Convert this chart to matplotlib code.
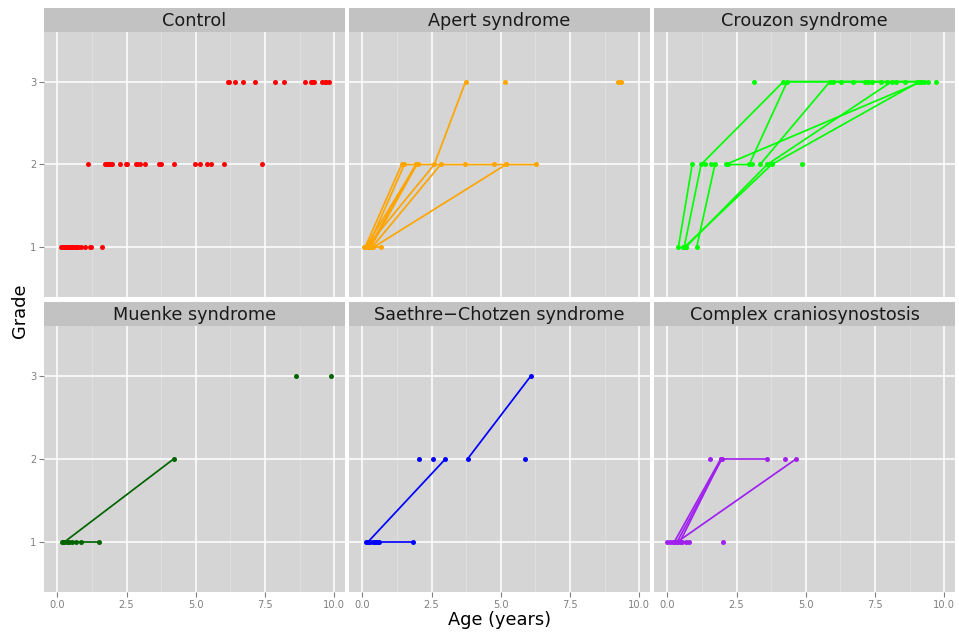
import matplotlib
matplotlib.use("Agg")
import matplotlib.pyplot as plt

# one list per column: patient id, age at exam (years), grade
control_id = list(range(55))
control_age = [0.13, 0.17, 0.22, 0.27, 0.31, 0.36, 0.41, 0.47, 0.52, 0.58, 0.64,
               0.70, 0.76, 0.84, 1.01, 1.18, 1.22, 1.62,
               1.12, 1.72, 1.78, 1.84, 1.90, 1.96, 2.26, 2.47, 2.53, 2.84, 2.89,
               2.98, 3.17, 3.68, 3.74, 4.22, 4.97, 5.14, 5.40, 5.56, 6.03, 7.41,
               6.15, 6.21, 6.42, 6.69, 7.15, 7.86, 8.17, 8.93, 9.15, 9.21, 9.27,
               9.56, 9.66, 9.72, 9.80]
control_grade = [1] * 18 + [2] * 22 + [3] * 15

apert_id = [1, 1, 1, 2, 2, 3, 3, 4, 4, 4, 4, 4, 5, 5, 5, 6, 6, 7, 7, 7,
            8, 8, 9, 10, 10, 11, 11]
apert_age = [0.10, 1.42, 2.00, 0.20, 1.52, 0.25, 1.93, 0.30, 1.97, 3.71, 4.75, 5.19,
             0.15, 2.60, 3.73, 0.35, 2.83, 0.40, 5.19, 6.27,
             0.05, 0.66, 5.15, 9.24, 9.36, 0.12, 1.95]
apert_grade = [1, 2, 2, 1, 2, 1, 2, 1, 2, 2, 2, 2, 1, 2, 3, 1, 2, 1, 2, 2,
               1, 1, 3, 3, 3, 1, 2]

crouzon_id = [1, 1, 1, 1, 1, 2, 2, 3, 3, 4, 4, 4, 4, 5, 5, 5, 5, 6, 6,
              7, 7, 7, 7, 7, 7, 8, 8, 8, 8, 8,
              9, 10, 11, 12, 13, 14, 15, 16, 17, 18, 19]
crouzon_age = [0.61, 1.22, 4.19, 6.71, 7.71, 0.40, 0.90, 1.06, 1.72,
               0.66, 3.61, 8.10, 9.00, 0.61, 3.77, 9.10, 9.42, 2.11, 9.18,
               2.18, 2.96, 4.33, 5.99, 7.14, 8.58, 3.35, 5.87, 6.27, 7.38, 9.27,
               3.14, 7.26, 7.92, 8.26, 9.69, 1.36, 1.58, 3.05, 4.87, 0.55, 0.68]
crouzon_grade = [1, 2, 3, 3, 3, 1, 2, 1, 2, 1, 2, 3, 3, 1, 2, 3, 3, 2, 3,
                 2, 2, 3, 3, 3, 3, 2, 3, 3, 3, 3,
                 3, 3, 3, 3, 3, 2, 2, 2, 2, 1, 1]

muenke_id = [1, 1, 2, 2, 2, 2, 3, 3, 3, 3, 4, 5]
muenke_age = [0.25, 4.20, 0.16, 0.52, 0.84, 1.49, 0.22, 0.34, 0.43, 0.66, 8.61, 9.88]
muenke_grade = [1, 2, 1, 1, 1, 1, 1, 1, 1, 1, 3, 3]

saethre_id = [1, 1, 2, 2, 3, 3, 3, 3, 4, 4, 4, 5, 6, 7]
saethre_age = [0.20, 3.00, 3.80, 6.09, 0.13, 0.37, 0.61, 1.83, 0.28, 0.46, 0.54,
               2.06, 2.56, 5.88]
saethre_grade = [1, 2, 2, 3, 1, 1, 1, 1, 1, 1, 1, 2, 2, 2]

complex_id = [1, 1, 1, 2, 2, 3, 3, 4, 4, 5, 5, 5, 5, 5, 5, 6, 7, 8]
complex_age = [0.25, 1.93, 3.59, 0.35, 1.97, 0.45, 1.95, 0.35, 4.65,
               0.00, 0.10, 0.21, 0.52, 0.67, 0.77, 1.55, 4.24, 2.02]
complex_grade = [1, 2, 2, 1, 2, 1, 2, 1, 2, 1, 1, 1, 1, 1, 1, 2, 2, 1]

titles = ["Control", "Apert syndrome", "Crouzon syndrome",
          "Muenke syndrome", "Saethre\u2212Chotzen syndrome", "Complex craniosynostosis"]
colors = ["#FF0000", "#FFA500", "#00FF00", "#006400", "#0000FF", "#A020F0"]
panels = [(control_id, control_age, control_grade),
          (apert_id, apert_age, apert_grade),
          (crouzon_id, crouzon_age, crouzon_grade),
          (muenke_id, muenke_age, muenke_grade),
          (saethre_id, saethre_age, saethre_grade),
          (complex_id, complex_age, complex_grade)]

x_ticks = [0, 2.5, 5, 7.5, 10]
x_labels = ["0.0", "2.5", "5.0", "7.5", "10.0"]
y_ticks = [1, 2, 3]

W, H = 959, 634
fig = plt.figure(figsize=(W / 100, H / 100), dpi=100)


def rect(x, top, w, bottom):
    return [x / W, 1 - bottom / H, w / W, (bottom - top) / H]


col_x = [44, 349, 654]
panel_w = 301
rows = [(8, 32, 297), (302, 326, 592)]
grey_txt = "#7F7F7F"

for i, ((pid, age, grade), title, col) in enumerate(zip(panels, titles, colors)):
    r, c = divmod(i, 3)
    strip_top, top, bottom = rows[r]
    x0 = col_x[c]

    # facet strip
    sax = fig.add_axes(rect(x0, strip_top, panel_w, top))
    sax.set_facecolor("#C2C2C2")
    sax.set_xticks([])
    sax.set_yticks([])
    for s in sax.spines.values():
        s.set_visible(False)
    sax.text(0.5, 0.45, title, ha="center", va="center", fontsize=12.7,
             color="#1A1A1A", transform=sax.transAxes)

    ax = fig.add_axes(rect(x0, top, panel_w, bottom))
    ax.set_facecolor("#D5D5D5")
    for s in ax.spines.values():
        s.set_visible(False)
    ax.set_xlim(-0.48, 10.39)
    ax.set_ylim(0.4, 3.6)
    ax.set_xticks(x_ticks)
    ax.set_xticklabels(x_labels)
    ax.set_xticks([1.25, 3.75, 6.25, 8.75], minor=True)
    ax.set_yticks(y_ticks)
    ax.set_yticklabels([str(v) for v in y_ticks])
    ax.grid(which="major", color="white", lw=1.1)
    ax.grid(which="minor", axis="x", color="#DFDFDF", lw=0.7)
    ax.set_axisbelow(True)
    ax.tick_params(which="minor", length=0)
    ax.tick_params(which="major", length=3.5, width=0.8, color=grey_txt,
                   labelsize=7.1, labelcolor=grey_txt, pad=2)
    ax.tick_params(axis="x", bottom=(r == 1), labelbottom=(r == 1))
    ax.tick_params(axis="y", left=(c == 0), labelleft=(c == 0))

    # connect each patient's exams in age order
    groups = {}
    for p, a, g in zip(pid, age, grade):
        groups.setdefault(p, []).append((a, g))
    for pts in groups.values():
        pts.sort()
        if len(pts) > 1:
            ax.plot([p[0] for p in pts], [p[1] for p in pts], color=col, lw=1.25,
                    solid_capstyle="round", zorder=3)
    ax.plot(age, grade, "o", color=col, ms=3.6, mew=0, zorder=4)

fig.text(499.5 / W, 1 - 620 / H, "Age (years)", ha="center", va="center",
         fontsize=12.8)
fig.text(20 / W, 1 - 311 / H, "Grade", ha="center", va="center",
         rotation=90, fontsize=12.8)

fig.savefig("out.png", dpi=100, facecolor="white")
